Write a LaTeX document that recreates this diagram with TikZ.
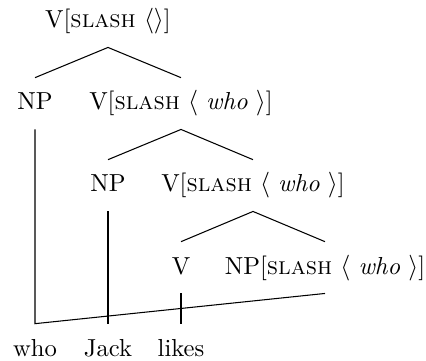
\documentclass[tikz,border=0pt]{standalone}
\usepackage{tikz}
\usetikzlibrary{positioning}

\begin{document}
\begin{tikzpicture}[
  cat/.style={anchor=base, font=\fontsize{10.5pt}{12.6pt}\selectfont,
              text height=7.8pt, text depth=2.3pt,
              inner xsep=2pt, inner ysep=5.8pt},
  branch/.style={line width=0.45pt},
]
  \useasboundingbox (0,0) rectangle (6.39,5.4);
  % the tree
  \node[cat] (vtop) at (1.62,4.98) {V[\textsc{slash} $\langle\rangle$]};
  \node[cat] (npwho) at (0.525,3.75) {NP};
  \node[cat] (vone) at (2.715,3.75) {V[\textsc{slash} $\langle$ \textit{who} $\rangle$]};
  \node[cat] (npjack) at (1.62,2.52) {NP};
  \node[cat] (vtwo) at (3.795,2.52) {V[\textsc{slash} $\langle$ \textit{who} $\rangle$]};
  \node[cat] (vlikes) at (2.715,1.29) {V};
  \node[cat] (npgap) at (4.875,1.29) {NP[\textsc{slash} $\langle$ \textit{who} $\rangle$]};
  % words
  \node[cat] (who) at (0.525,0.06) {who};
  \node[cat] (jack) at (1.62,0.06) {Jack};
  \node[cat] (likes) at (2.715,0.06) {likes};

  \draw[branch] (npwho.north) -- (vtop.south) -- (vone.north);
  \draw[branch] (npjack.north) -- (vone.south) -- (vtwo.north);
  \draw[branch] (vlikes.north) -- (vtwo.south) -- (npgap.north);
  \draw[branch] (npwho.south) -- (who.north) -- (npgap.south);
  \draw[branch] (npjack.south) -- (jack.north);
  \draw[branch] (vlikes.south) -- (likes.north);
\end{tikzpicture}
\end{document}
